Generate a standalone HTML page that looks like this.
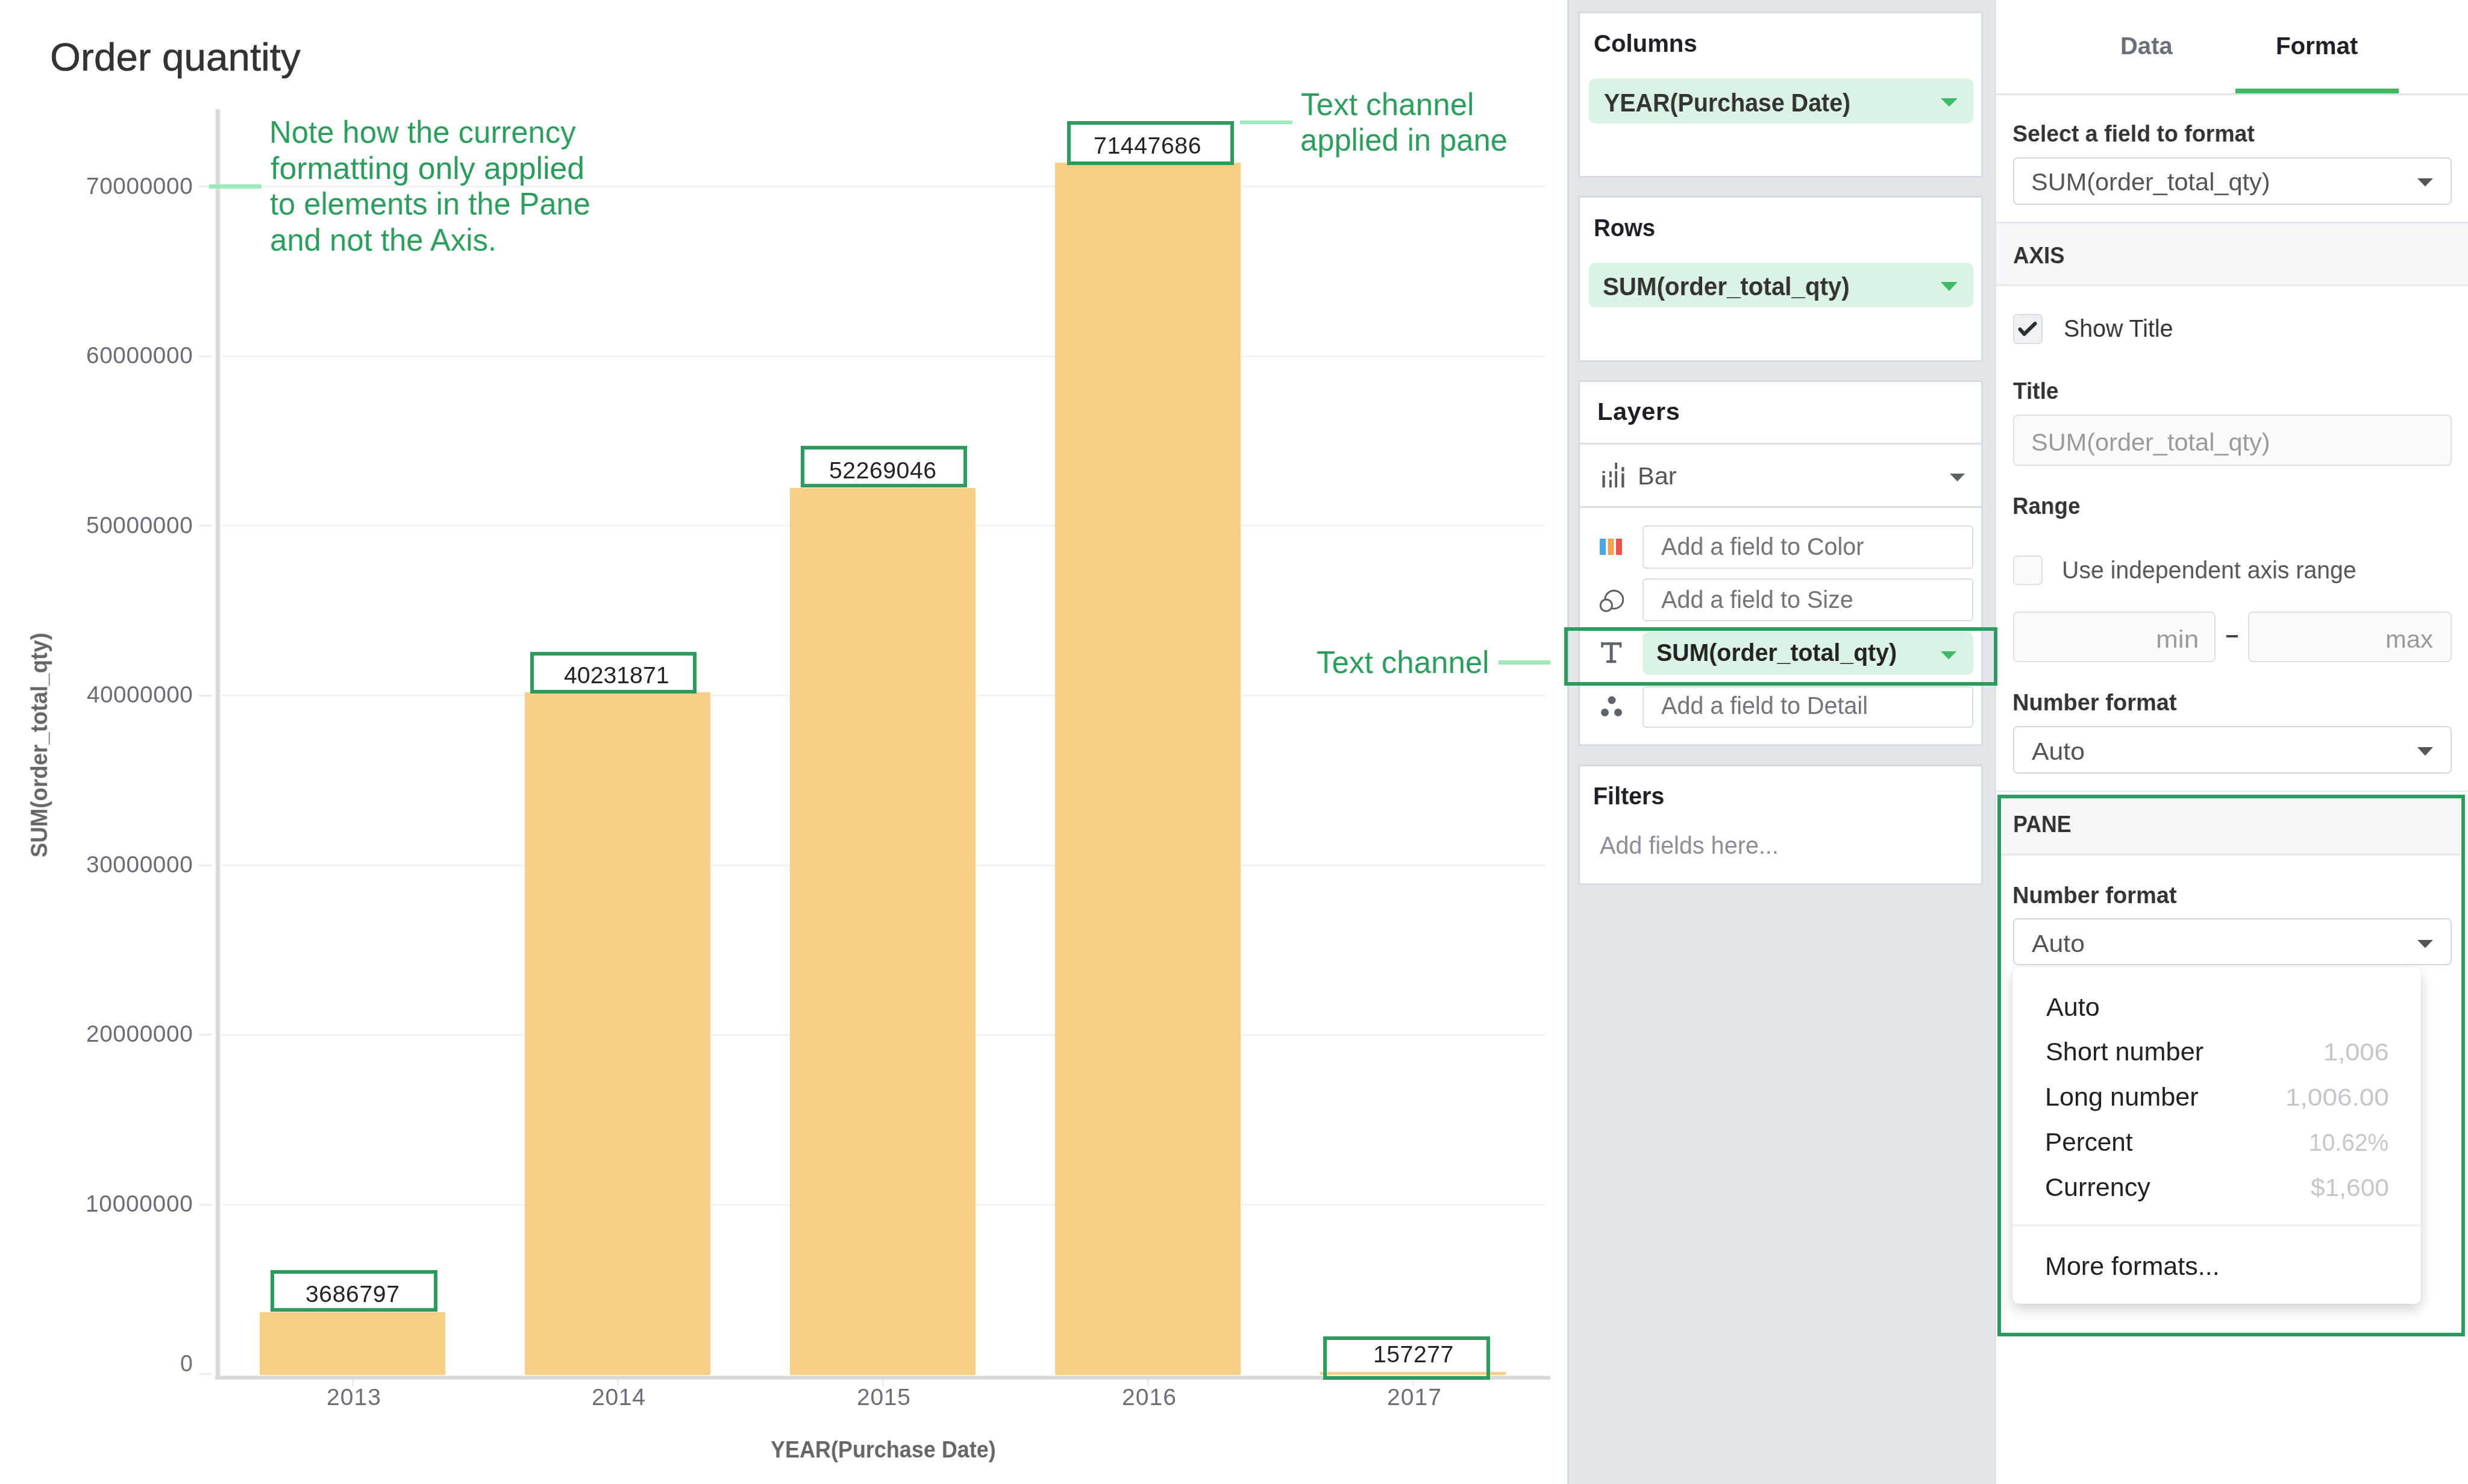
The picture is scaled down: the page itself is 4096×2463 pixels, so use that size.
<!DOCTYPE html>
<html><head><meta charset="utf-8"><title>Order quantity</title>
<style>
html,body{margin:0;padding:0;background:#fff;overflow:hidden;}
#root{position:relative;width:4096px;height:2463px;overflow:hidden;background:#fff;font-family:"Liberation Sans",Arial,sans-serif;}
.t{position:absolute;white-space:nowrap;line-height:1;transform-origin:0 0;will-change:transform;}
.r{position:absolute;}
.card{position:absolute;left:2619px;width:672px;background:#fff;border:3px solid #d7dadf;box-sizing:border-box;}
</style></head><body><div id="root">
<div class="t" style="left:83.4px;top:63.0px;font-size:64.5px;color:#333;transform:scaleX(1.0173);-webkit-text-stroke:0.6px #333;">Order quantity</div>
<div class="r" style="left:330.0px;top:2279.2px;width:22.0px;height:3.0px;background:#ececec;"></div>
<div class="t" style="left:298.6px;top:2244.3px;font-size:38.8px;color:#6b6e76;transform:scaleX(0.9650);">0</div>
<div class="r" style="left:367.0px;top:1997.6px;width:2198.0px;height:3.0px;background:#f2f2f2;"></div>
<div class="r" style="left:330.0px;top:1997.6px;width:22.0px;height:3.0px;background:#ececec;"></div>
<div class="t" style="left:141.7px;top:1979.0px;font-size:38.8px;color:#6b6e76;letter-spacing:0.74px;">10000000</div>
<div class="r" style="left:367.0px;top:1716.1px;width:2198.0px;height:3.0px;background:#f2f2f2;"></div>
<div class="r" style="left:330.0px;top:1716.1px;width:22.0px;height:3.0px;background:#ececec;"></div>
<div class="t" style="left:142.7px;top:1697.4px;font-size:38.8px;color:#6b6e76;letter-spacing:0.59px;">20000000</div>
<div class="r" style="left:367.0px;top:1434.5px;width:2198.0px;height:3.0px;background:#f2f2f2;"></div>
<div class="r" style="left:330.0px;top:1434.5px;width:22.0px;height:3.0px;background:#ececec;"></div>
<div class="t" style="left:142.7px;top:1415.8px;font-size:38.8px;color:#6b6e76;letter-spacing:0.59px;">30000000</div>
<div class="r" style="left:367.0px;top:1152.9px;width:2198.0px;height:3.0px;background:#f2f2f2;"></div>
<div class="r" style="left:330.0px;top:1152.9px;width:22.0px;height:3.0px;background:#ececec;"></div>
<div class="t" style="left:143.7px;top:1134.3px;font-size:38.8px;color:#6b6e76;letter-spacing:0.45px;">40000000</div>
<div class="r" style="left:367.0px;top:871.3px;width:2198.0px;height:3.0px;background:#f2f2f2;"></div>
<div class="r" style="left:330.0px;top:871.3px;width:22.0px;height:3.0px;background:#ececec;"></div>
<div class="t" style="left:142.7px;top:852.7px;font-size:38.8px;color:#6b6e76;letter-spacing:0.59px;">50000000</div>
<div class="r" style="left:367.0px;top:589.8px;width:2198.0px;height:3.0px;background:#f2f2f2;"></div>
<div class="r" style="left:330.0px;top:589.8px;width:22.0px;height:3.0px;background:#ececec;"></div>
<div class="t" style="left:142.7px;top:571.1px;font-size:38.8px;color:#6b6e76;letter-spacing:0.59px;">60000000</div>
<div class="r" style="left:367.0px;top:308.2px;width:2198.0px;height:3.0px;background:#f2f2f2;"></div>
<div class="r" style="left:330.0px;top:308.2px;width:22.0px;height:3.0px;background:#ececec;"></div>
<div class="t" style="left:142.7px;top:289.6px;font-size:38.8px;color:#6b6e76;letter-spacing:0.59px;">70000000</div>
<div class="r" style="left:431.3px;top:2177.7px;width:308.0px;height:104.3px;background:#f6cf86;"></div>
<div class="r" style="left:583.8px;top:2290.0px;width:3.0px;height:11.0px;background:#eeeeee;"></div>
<div class="t" style="left:541.7px;top:2299.0px;font-size:39px;color:#6b6e76;letter-spacing:1.04px;">2013</div>
<div class="r" style="left:871.3px;top:1148.7px;width:308.0px;height:1133.3px;background:#f6cf86;"></div>
<div class="r" style="left:1023.8px;top:2290.0px;width:3.0px;height:11.0px;background:#eeeeee;"></div>
<div class="t" style="left:981.7px;top:2299.0px;font-size:39px;color:#6b6e76;letter-spacing:0.71px;">2014</div>
<div class="r" style="left:1311.3px;top:809.8px;width:308.0px;height:1472.2px;background:#f6cf86;"></div>
<div class="r" style="left:1463.8px;top:2290.0px;width:3.0px;height:11.0px;background:#eeeeee;"></div>
<div class="t" style="left:1421.7px;top:2299.0px;font-size:39px;color:#6b6e76;letter-spacing:0.71px;">2015</div>
<div class="r" style="left:1751.3px;top:269.7px;width:308.0px;height:2012.3px;background:#f6cf86;"></div>
<div class="r" style="left:1903.8px;top:2290.0px;width:3.0px;height:11.0px;background:#eeeeee;"></div>
<div class="t" style="left:1861.7px;top:2299.0px;font-size:39px;color:#6b6e76;letter-spacing:1.04px;">2016</div>
<div class="r" style="left:2191.3px;top:2277.1px;width:308.0px;height:4.9px;background:#f6cf86;"></div>
<div class="r" style="left:2343.8px;top:2290.0px;width:3.0px;height:11.0px;background:#eeeeee;"></div>
<div class="t" style="left:2301.7px;top:2299.0px;font-size:39px;color:#6b6e76;letter-spacing:1.04px;">2017</div>
<div class="r" style="left:357.0px;top:181.0px;width:9.0px;height:2109.0px;background:#e9e9e9;"></div>
<div class="r" style="left:359.0px;top:181.0px;width:5.0px;height:2109.0px;background:#d6d6d6;"></div>
<div class="r" style="left:357.0px;top:2283.0px;width:2216.0px;height:7.0px;background:#e6e6e6;"></div>
<div class="r" style="left:357.0px;top:2284.0px;width:2216.0px;height:5.0px;background:#d8d8d8;"></div>
<div class="r" style="left:448.9px;top:2107.6px;width:277.2px;height:69.2px;border:6.5px solid #2b9c5d;box-sizing:border-box;"></div>
<div class="t" style="left:507.2px;top:2128.3px;font-size:39.2px;color:#232428;letter-spacing:0.57px;">3686797</div>
<div class="r" style="left:879.7px;top:1082.0px;width:276.8px;height:69.2px;border:6.5px solid #2b9c5d;box-sizing:border-box;"></div>
<div class="t" style="left:936.3px;top:1101.0px;font-size:39.2px;color:#232428;letter-spacing:0.03px;">40231871</div>
<div class="r" style="left:1328.6px;top:740.3px;width:276.8px;height:68.8px;border:6.5px solid #2b9c5d;box-sizing:border-box;"></div>
<div class="t" style="left:1375.8px;top:761.0px;font-size:39.2px;color:#232428;letter-spacing:0.52px;">52269046</div>
<div class="r" style="left:1771.0px;top:200.9px;width:276.9px;height:73.1px;border:6.5px solid #2b9c5d;box-sizing:border-box;"></div>
<div class="t" style="left:1815.1px;top:222.4px;font-size:39.2px;color:#232428;letter-spacing:0.59px;">71447686</div>
<div class="r" style="left:2196.1px;top:2218.3px;width:276.7px;height:72.0px;border:6.5px solid #2b9c5d;box-sizing:border-box;"></div>
<div class="t" style="left:2279.3px;top:2228.3px;font-size:39.2px;color:#232428;letter-spacing:0.51px;">157277</div>
<div class="t" style="left:446.9px;top:193.9px;font-size:51.5px;color:#2b9c5d;transform:scaleX(0.9871);">Note how the currency</div>
<div class="t" style="left:449.4px;top:253.7px;font-size:51.5px;color:#2b9c5d;transform:scaleX(1.0058);">formatting only applied</div>
<div class="t" style="left:448.0px;top:313.4px;font-size:51.5px;color:#2b9c5d;transform:scaleX(0.9828);">to elements in the Pane</div>
<div class="t" style="left:448.0px;top:372.6px;font-size:51.5px;color:#2b9c5d;transform:scaleX(0.9877);">and not the Axis.</div>
<div class="t" style="left:2159.0px;top:146.5px;font-size:52.5px;color:#2b9c5d;transform:scaleX(0.9752);">Text channel</div>
<div class="t" style="left:2158.0px;top:205.7px;font-size:52.5px;color:#2b9c5d;transform:scaleX(0.9655);">applied in pane</div>
<div class="t" style="left:2184.5px;top:1073.0px;font-size:52.5px;color:#2b9c5d;transform:scaleX(0.9721);">Text channel</div>
<div class="r" style="left:347.0px;top:306.0px;width:87.0px;height:7.0px;background:#9be8ba;"></div>
<div class="r" style="left:2058.0px;top:199.5px;width:87.0px;height:6.0px;background:#9be8ba;"></div>
<div class="r" style="left:2487.0px;top:1096.0px;width:86.0px;height:6.5px;background:#9be8ba;"></div>
<div class="t" style="left:1279.2px;top:2387.1px;font-size:38.6px;color:#666;font-weight:700;transform:scaleX(0.9322);">YEAR(Purchase Date)</div>
<div class="t" id="ytitle" style="left:0;top:0;font-size:38.6px;font-weight:700;color:#666;transform-origin:0 0;transform:translate(46.2px,1423.2px) rotate(-90deg) scaleX(0.9512);">SUM(order_total_qty)</div>
<div class="r" style="left:2601.0px;top:0.0px;width:710.0px;height:2463.0px;background:#e3e6eb;"></div>
<div class="r" style="left:2601.0px;top:0.0px;width:3.0px;height:2463.0px;background:#d6d9df;"></div>
<div class="card" style="top:19px;height:276px;"></div>
<div class="card" style="top:325px;height:276px;"></div>
<div class="card" style="top:630.5px;height:607.5px;"></div>
<div class="card" style="top:1269px;height:200px;"></div>
<div class="t" style="left:2644.9px;top:50.9px;font-size:41.5px;color:#1e1f24;font-weight:700;transform:scaleX(0.9667);">Columns</div>
<div class="t" style="left:2644.5px;top:356.6px;font-size:41.5px;color:#1e1f24;font-weight:700;transform:scaleX(0.9229);">Rows</div>
<div class="t" style="left:2651.0px;top:661.7px;font-size:41.5px;color:#1e1f24;font-weight:700;letter-spacing:0.59px;">Layers</div>
<div class="t" style="left:2644.2px;top:1300.2px;font-size:41.5px;color:#1e1f24;font-weight:700;transform:scaleX(0.9493);">Filters</div>
<div class="r" style="left:2637px;top:130px;width:638px;height:75px;background:#daf3e4;border-radius:10px;"></div>
<div class="t" style="left:2662.1px;top:149.1px;font-size:43px;color:#333;font-weight:700;transform:scaleX(0.9155);">YEAR(Purchase Date)</div>
<svg class="r" style="left:3220.5px;top:162.8px;" width="27.9" height="13.9" viewBox="0 0 10 5" preserveAspectRatio="none"><path d="M0 0 L10 0 L5 5 Z" fill="#3dba66"/></svg>
<div class="r" style="left:2637px;top:436px;width:638px;height:74px;background:#daf3e4;border-radius:10px;"></div>
<div class="t" style="left:2660.1px;top:454.6px;font-size:42.5px;color:#333;font-weight:700;transform:scaleX(0.9480);">SUM(order_total_qty)</div>
<svg class="r" style="left:3220.5px;top:468.4px;" width="27.9" height="14.9" viewBox="0 0 10 5" preserveAspectRatio="none"><path d="M0 0 L10 0 L5 5 Z" fill="#3dba66"/></svg>
<div class="r" style="left:2622.0px;top:735.0px;width:668.0px;height:3.0px;background:#dcdfe3;"></div>
<div class="r" style="left:2622.0px;top:840.0px;width:668.0px;height:3.0px;background:#dcdfe3;"></div>
<svg class="r" style="left:2656px;top:766px;" width="42" height="46" viewBox="0 0 42 46"><g fill="#58595e"><rect x="3.4" y="15.8" width="4.3" height="3.5"/><rect x="3.4" y="22.8" width="4.3" height="20.2"/><rect x="15" y="16.3" width="3.8" height="9.5"/><rect x="15" y="30.4" width="3.8" height="12.6"/><rect x="24.2" y="1.8" width="3.8" height="10.8"/><rect x="24.2" y="15.8" width="3.8" height="27.2"/><rect x="35.2" y="9.3" width="4.3" height="7"/><rect x="35.2" y="19.6" width="4.3" height="23.4"/></g></svg>
<div class="t" style="left:2717.6px;top:768.5px;font-size:41.5px;color:#555;">Bar</div>
<svg class="r" style="left:3235.7px;top:785.7px;" width="25.1" height="13.1" viewBox="0 0 10 5" preserveAspectRatio="none"><path d="M0 0 L10 0 L5 5 Z" fill="#5f6368"/></svg>
<div class="r" style="left:2725.5px;top:871.5px;width:549.2px;height:72.2px;background:#fff;border:2.5px solid #dadce0;border-radius:6px;box-sizing:border-box;"></div>
<div class="t" style="left:2757.0px;top:886.7px;font-size:40.5px;color:#6f7277;transform:scaleX(0.9763);">Add a field to Color</div>
<svg class="r" style="left:2654px;top:893px;" width="40" height="29"><rect x="1" y="1" width="10" height="27" fill="#4aa8e0"/><rect x="14.5" y="1" width="10" height="27" fill="#f0a24c"/><rect x="28" y="1" width="10" height="27" fill="#e9534f"/></svg>
<div class="r" style="left:2725.5px;top:960px;width:549.2px;height:71.0px;background:#fff;border:2.5px solid #dadce0;border-radius:6px;box-sizing:border-box;"></div>
<div class="t" style="left:2757.0px;top:975.2px;font-size:40.5px;color:#6f7277;transform:scaleX(0.9763);">Add a field to Size</div>
<svg class="r" style="left:2650px;top:975px;" width="50" height="46" viewBox="2650 975 50 46"><circle cx="2678.7" cy="995.2" r="15" fill="none" stroke="#5f6368" stroke-width="3"/><circle cx="2665.8" cy="1004.7" r="9.6" fill="#fff" stroke="#5f6368" stroke-width="3"/></svg>
<div class="r" style="left:2725.5px;top:1048.8px;width:549.1999999999998px;height:71.60000000000014px;background:#daf3e4;border-radius:10px;"></div>
<div class="t" style="left:2748.8px;top:1061.7px;font-size:41.5px;color:#222;font-weight:700;transform:scaleX(0.9455);">SUM(order_total_qty)</div>
<svg class="r" style="left:3221px;top:1080.5px;" width="26.2" height="13.3" viewBox="0 0 10 5" preserveAspectRatio="none"><path d="M0 0 L10 0 L5 5 Z" fill="#3dba66"/></svg>
<svg class="r" style="left:2655px;top:1064px;" width="40" height="40" viewBox="0 0 40 40"><g fill="#5f6368"><rect x="2.3" y="2.2" width="33.9" height="4.3"/><rect x="2.3" y="2.2" width="3.6" height="8.5"/><rect x="32.6" y="2.2" width="3.6" height="8.5"/><rect x="16.6" y="2.2" width="5" height="34"/><rect x="11.2" y="32" width="16.1" height="4.2"/></g></svg>
<div class="r" style="left:2725.5px;top:1138.8px;width:549.2px;height:68.9px;background:#fff;border:2.5px solid #dadce0;border-radius:6px;box-sizing:border-box;"></div>
<div class="t" style="left:2757.0px;top:1151.2px;font-size:40.5px;color:#6f7277;transform:scaleX(0.9763);">Add a field to Detail</div>
<svg class="r" style="left:2655px;top:1154px;" width="40" height="36"><g fill="#5f6368"><circle cx="20" cy="8" r="6.5"/><circle cx="8.5" cy="28.5" r="6.5"/><circle cx="30.5" cy="28.5" r="6.5"/></g></svg>
<div class="t" style="left:2655.0px;top:1383.2px;font-size:40.5px;color:#8a8d93;transform:scaleX(0.9763);">Add fields here...</div>
<div class="r" style="left:3311.0px;top:0.0px;width:785.0px;height:2463.0px;background:#fff;"></div>
<div class="r" style="left:3310.0px;top:0.0px;width:3.0px;height:2463.0px;background:#dfe2e6;"></div>
<div class="t" style="left:3518.6px;top:56.2px;font-size:41px;color:#6b6e76;font-weight:700;transform:scaleX(0.9754);">Data</div>
<div class="t" style="left:3777.0px;top:56.2px;font-size:41px;color:#1e1f24;font-weight:700;transform:scaleX(0.9810);">Format</div>
<div class="r" style="left:3313.0px;top:155.0px;width:783.0px;height:2.5px;background:#e3e5e8;"></div>
<div class="r" style="left:3710.0px;top:147.0px;width:271.0px;height:7.5px;background:#3dba62;"></div>
<div class="t" style="left:3340.3px;top:202.9px;font-size:38.2px;color:#333;font-weight:700;transform:scaleX(0.9813);">Select a field to format</div>
<div class="r" style="left:3341.4px;top:260.5px;width:727.2px;height:79.3px;background:#fff;border:2.5px solid #d6d6d6;border-radius:8px;box-sizing:border-box;"></div>
<div class="t" style="left:3371.3px;top:281.5px;font-size:41px;color:#555;transform:scaleX(1.0119);">SUM(order_total_qty)</div>
<svg class="r" style="left:4012.4px;top:296.4px;" width="25.9" height="13.5" viewBox="0 0 10 5" preserveAspectRatio="none"><path d="M0 0 L10 0 L5 5 Z" fill="#555"/></svg>
<div class="r" style="left:3313.0px;top:368.0px;width:783.0px;height:106.5px;background:#f6f7f9;"></div>
<div class="r" style="left:3313.0px;top:368.0px;width:783.0px;height:2.5px;background:#e6e8eb;"></div>
<div class="r" style="left:3313.0px;top:472.0px;width:783.0px;height:2.5px;background:#e6e8eb;"></div>
<div class="t" style="left:3341.3px;top:403.7px;font-size:39.2px;color:#333;font-weight:700;transform:scaleX(0.9355);">AXIS</div>
<div class="r" style="left:3341px;top:521px;width:49px;height:50px;background:#eef0f3;border:2.5px solid #d9dce0;border-radius:7px;box-sizing:border-box;"></div>
<svg class="r" style="left:3341px;top:521px;" width="50" height="50" viewBox="3341 521 50 50"><path d="M3352.5 546.5 L3359.5 554.5 L3377.5 537" fill="none" stroke="#2d3035" stroke-width="6" stroke-linecap="round" stroke-linejoin="round"/></svg>
<div class="t" style="left:3424.8px;top:524.7px;font-size:40.5px;color:#333;transform:scaleX(0.9717);">Show Title</div>
<div class="t" style="left:3341.3px;top:629.4px;font-size:39.2px;color:#333;font-weight:700;transform:scaleX(0.9449);">Title</div>
<div class="r" style="left:3341.4px;top:688.4px;width:727.2px;height:84.8px;background:#fafafa;border:2.5px solid #e0e0e0;border-radius:8px;box-sizing:border-box;"></div>
<div class="t" style="left:3371.3px;top:713.9px;font-size:41px;color:#9a9a9a;transform:scaleX(1.0119);">SUM(order_total_qty)</div>
<div class="t" style="left:3340.3px;top:819.8px;font-size:39.2px;color:#333;font-weight:700;transform:scaleX(0.9387);">Range</div>
<div class="r" style="left:3341px;top:922px;width:49px;height:49px;background:#f8f9fa;border:2.5px solid #dcdee1;border-radius:7px;box-sizing:border-box;"></div>
<div class="t" style="left:3422.4px;top:926.3px;font-size:40.5px;color:#555;transform:scaleX(0.9689);">Use independent axis range</div>
<div class="r" style="left:3341.4px;top:1014.5px;width:335.8px;height:84.9px;background:#fafafa;border:2.5px solid #dfdfdf;border-radius:8px;box-sizing:border-box;"></div>
<div class="t" style="left:3578.1px;top:1040.9px;font-size:41px;color:#9a9a9a;transform:scaleX(1.0793);">min</div>
<div class="r" style="left:3695.3px;top:1054.0px;width:19.1px;height:4.4px;background:#444;"></div>
<div class="r" style="left:3731.1px;top:1014.5px;width:337.5px;height:84.9px;background:#fafafa;border:2.5px solid #dfdfdf;border-radius:8px;box-sizing:border-box;"></div>
<div class="t" style="left:3958.7px;top:1040.9px;font-size:41px;color:#9a9a9a;transform:scaleX(1.0190);">max</div>
<div class="t" style="left:3340.0px;top:1146.2px;font-size:39.2px;color:#333;font-weight:700;transform:scaleX(0.9705);">Number format</div>
<div class="r" style="left:3341.4px;top:1204.5px;width:727.2px;height:79.0px;background:#fff;border:2.5px solid #d6d6d6;border-radius:8px;box-sizing:border-box;"></div>
<div class="t" style="left:3372.0px;top:1225.8px;font-size:41.5px;color:#555;transform:scaleX(1.0298);">Auto</div>
<svg class="r" style="left:4012.4px;top:1240px;" width="25.9" height="14.3" viewBox="0 0 10 5" preserveAspectRatio="none"><path d="M0 0 L10 0 L5 5 Z" fill="#555"/></svg>
<div class="r" style="left:3313.0px;top:1311.5px;width:783.0px;height:2.5px;background:#e6e8eb;"></div>
<div class="r" style="left:3321.0px;top:1325.0px;width:763.0px;height:93.7px;background:#f5f6f8;"></div>
<div class="r" style="left:3321.0px;top:1417.0px;width:763.0px;height:2.5px;background:#e6e8eb;"></div>
<div class="t" style="left:3340.5px;top:1347.7px;font-size:39.2px;color:#333;font-weight:700;transform:scaleX(0.9112);">PANE</div>
<div class="t" style="left:3340.0px;top:1465.7px;font-size:39.2px;color:#333;font-weight:700;transform:scaleX(0.9705);">Number format</div>
<div class="r" style="left:3341.4px;top:1524.2px;width:727.2px;height:78.1px;background:#fff;border:2.5px solid #d6d6d6;border-radius:8px;box-sizing:border-box;"></div>
<div class="t" style="left:3372.0px;top:1545.1px;font-size:41.5px;color:#555;transform:scaleX(1.0298);">Auto</div>
<svg class="r" style="left:4012.4px;top:1560.2px;" width="25.9" height="13.5" viewBox="0 0 10 5" preserveAspectRatio="none"><path d="M0 0 L10 0 L5 5 Z" fill="#555"/></svg>
<div class="r" style="left:3339.7px;top:1605px;width:678.3px;height:558.8px;background:#fff;border-radius:10px;box-shadow:0 10px 22px rgba(0,0,0,0.17),0 0 4px rgba(0,0,0,0.09);"></div>
<div class="t" style="left:3395.6px;top:1650.8px;font-size:41.8px;color:#222;transform:scaleX(1.0314);">Auto</div>
<div class="t" style="left:3395.0px;top:1725.4px;font-size:41.8px;color:#222;transform:scaleX(1.0352);">Short number</div>
<div class="t" style="left:3393.9px;top:1800.2px;font-size:41.8px;color:#222;transform:scaleX(1.0337);">Long number</div>
<div class="t" style="left:3393.6px;top:1875.3px;font-size:41.8px;color:#222;transform:scaleX(1.0104);">Percent</div>
<div class="t" style="left:3394.0px;top:1950.3px;font-size:41.8px;color:#222;transform:scaleX(1.0307);">Currency</div>
<div class="t" style="left:3394.1px;top:2081.4px;font-size:41.8px;color:#222;transform:scaleX(1.0306);">More formats...</div>
<div class="t" style="left:3856.0px;top:1726.3px;font-size:40.5px;color:#c4c6cb;transform:scaleX(1.0720);">1,006</div>
<div class="t" style="left:3792.7px;top:1801.3px;font-size:40.5px;color:#c4c6cb;transform:scaleX(1.0906);">1,006.00</div>
<div class="t" style="left:3831.8px;top:1876.4px;font-size:40.5px;color:#c4c6cb;transform:scaleX(0.9621);">10.62%</div>
<div class="t" style="left:3834.7px;top:1951.4px;font-size:40.5px;color:#c4c6cb;transform:scaleX(1.0486);">$1,600</div>
<div class="r" style="left:3340.0px;top:2032.0px;width:678.0px;height:2.5px;background:#eeeeee;"></div>
<div class="r" style="left:3315px;top:1318.7px;width:776px;height:899px;border:6.7px solid #2b9c5d;box-sizing:border-box;"></div>
<div class="r" style="left:2596px;top:1041.2px;width:719.2px;height:96.4px;border:6.5px solid #2b9c5d;box-sizing:border-box;"></div>
</div></body></html>
